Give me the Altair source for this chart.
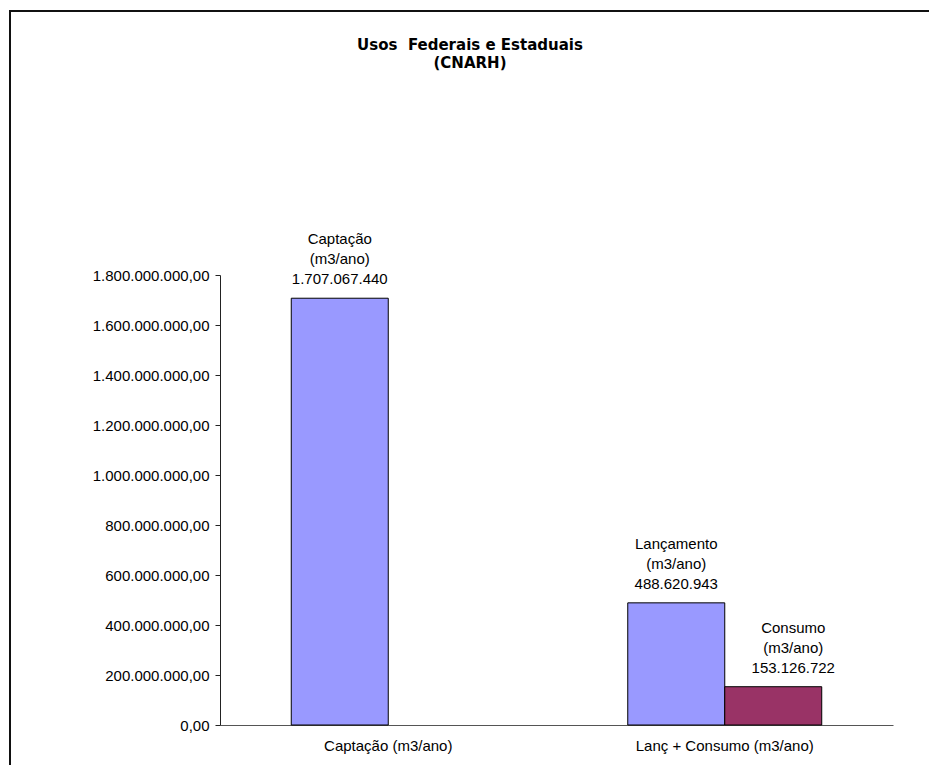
import altair as alt
import pandas as pd

# ---- data ----
categories = ["Captação (m3/ano)", "Lanç + Consumo (m3/ano)", "Lanç + Consumo (m3/ano)"]
series = ["Captação", "Lançamento", "Consumo"]
slots = ["s1", "s1", "s2"]
values = [1707067440, 488620943, 153126722]
y_ticks = [0, 200000000, 400000000, 600000000, 800000000, 1000000000,
           1200000000, 1400000000, 1600000000, 1800000000]
title_lines = "Usos\u00a0 Federais e Estaduais\n(CNARH)"

labels = [f"{s}\n(m3/ano)\n{v:,}".replace(",", ".") for s, v in zip(series, values)]

df = pd.DataFrame({
    "categoria": categories,
    "serie": series,
    "slot": slots,
    "valor": values,
    "rotulo": labels,
})

FONT = "Liberation Sans"
cat_order = ["Captação (m3/ano)", "Lanç + Consumo (m3/ano)"]

x_enc = alt.X("categoria:N", sort=cat_order,
              scale=alt.Scale(paddingInner=0.4235, paddingOuter=0.21175),
              axis=alt.Axis(title=None, labelAngle=0, ticks=False, tickSize=0,
                            labelPadding=13, labelFontSize=15, labelFont=FONT,
                            labelColor="#000", domainColor="#555", domainWidth=1))
xo_enc = alt.XOffset("slot:N", sort=["s1", "s2"],
                     scale=alt.Scale(domain=["s1", "s2"], paddingInner=0, paddingOuter=0))
y_enc = alt.Y("valor:Q",
              scale=alt.Scale(domain=[0, 1800000000], nice=False),
              axis=alt.Axis(title=None, values=y_ticks, format=",.2f", grid=False,
                            tickSize=5, labelPadding=6, labelFontSize=15, labelFont=FONT,
                            labelColor="#000", domainColor="#222", tickColor="#222"))

base = alt.Chart(df)

bars = base.mark_bar(stroke="#000", strokeWidth=1).encode(
    x=x_enc, xOffset=xo_enc, y=y_enc,
    color=alt.Color("slot:N", scale=alt.Scale(domain=["s1", "s2"], range=["#9999FF", "#993366"]),
                    legend=None),
)

text_common = dict(baseline="alphabetic", align="center", lineBreak="\n", lineHeight=20,
                   fontSize=15, font=FONT, color="#000", dy=-54)
txt1 = base.transform_filter(alt.datum.slot == "s1").mark_text(**text_common).encode(
    x=x_enc, xOffset=xo_enc, y=y_enc, text="rotulo:N")
txt2 = base.transform_filter(alt.datum.slot == "s2").mark_text(dx=20, **text_common).encode(
    x=x_enc, xOffset=xo_enc, y=y_enc, text="rotulo:N")

one = pd.DataFrame({"t": [title_lines]})
title = alt.Chart(one).mark_text(font="DejaVu Sans", fontWeight="bold", fontSize=15,
                                 lineBreak="\n", lineHeight=18, baseline="alphabetic",
                                 align="center", color="#000").encode(
    x=alt.value(250), y=alt.value(-225), text="t:N")

frame_v = alt.Chart(one).mark_rule(color="#111", strokeWidth=2).encode(
    x=alt.value(-210), y=alt.value(-264), y2=alt.value(500))
frame_h = alt.Chart(one).mark_rule(color="#111", strokeWidth=2).encode(
    x=alt.value(-211), x2=alt.value(720), y=alt.value(-264))

chart = alt.layer(frame_v, frame_h, title, bars, txt1, txt2).properties(
    width=673, height=450,
    autosize=alt.AutoSizeParams(type="none"),
    padding={"left": 212, "top": 267, "right": 36, "bottom": 40},
).configure(
    locale=alt.Locale(number=alt.NumberLocale(decimal=",", thousands=".", grouping=[3],
                                              currency=["R$", ""]))
).configure_view(strokeWidth=0, stroke="transparent")

chart.save("out.html", embed_options={"renderer": "svg", "actions": False})
